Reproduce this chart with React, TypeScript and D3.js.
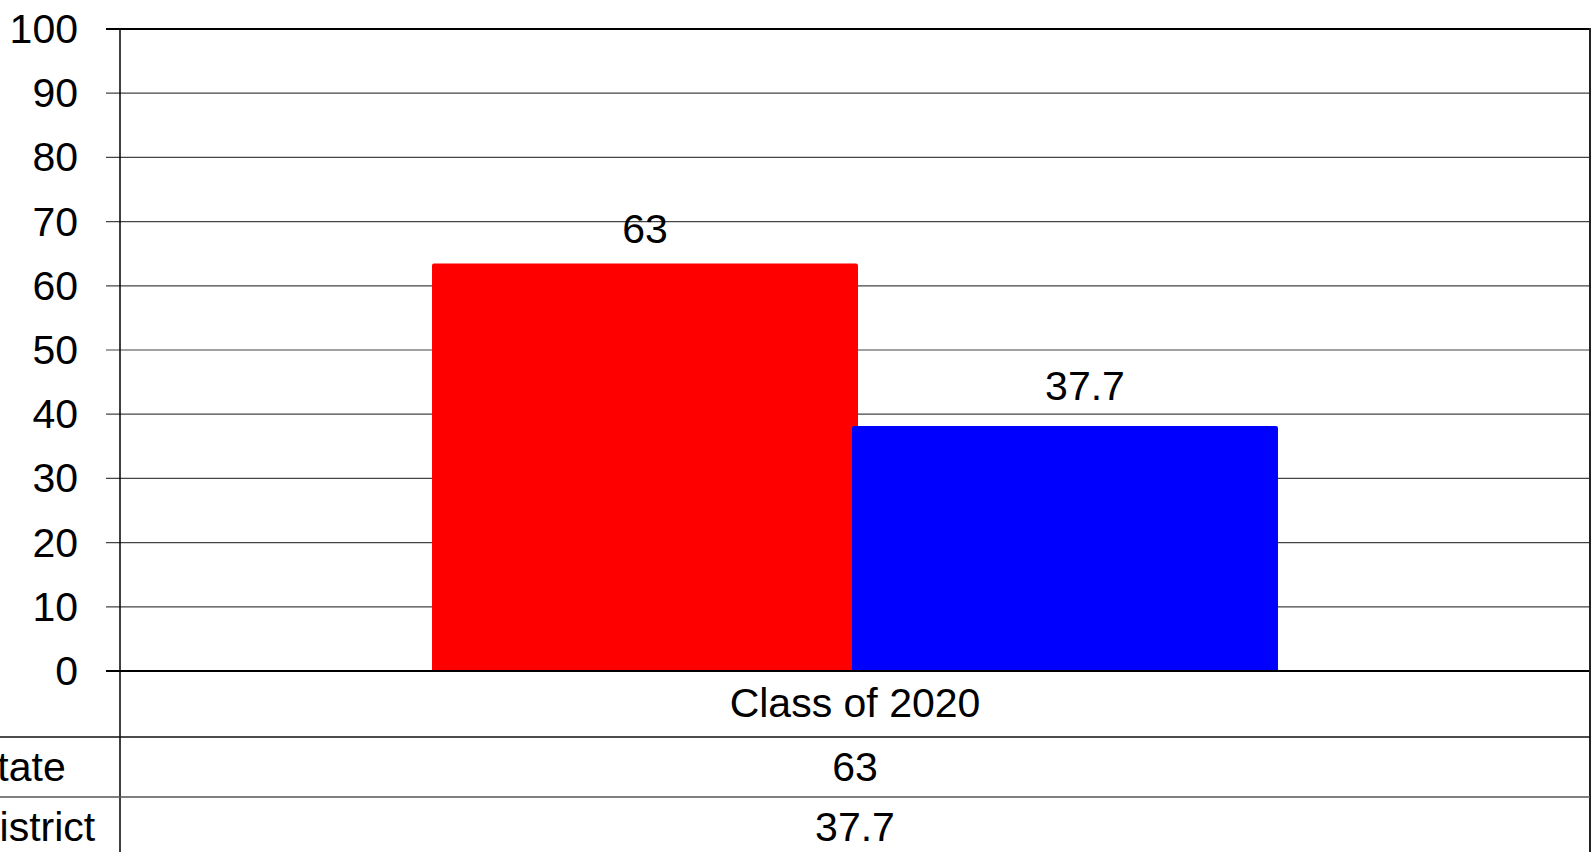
import React from "react";
import * as d3 from "d3";

const categories = ["Class of 2020"];
const seriesNames = ["State", "District"];
const stateValues = [63];
const districtValues = [37.7];
const seriesColors = ["#ff0000", "#0000ff"];
const yTicks = [0, 10, 20, 30, 40, 50, 60, 70, 80, 90, 100];

const W = 1596;
const H = 852;
const left = 120;
const right = 1590;
const top = 29;
const base = 671;
const rowLines = [737, 797];
const FONT = "'Liberation Sans', Arial, sans-serif";
const FS = 41;
const labelDx = [0, 20];
const labelDy = [-38, -43];

export default function App() {
  const y = d3.scaleLinear().domain([0, 100]).range([base, top]);
  const x0 = d3.scaleBand<string>().domain(categories).range([left, right]).paddingInner(0).paddingOuter(0.3627);
  const x1 = d3.scaleBand<string>().domain(seriesNames).range([0, x0.bandwidth()]).padding(0);
  const series = [stateValues, districtValues];
  const overlap = 6;
  const barX = (c: string, s: string, si: number) =>
    (x0(c) as number) + (x1(s) as number) + (si === 0 ? overlap / 2 : -overlap / 2);

  return (
    <svg width={W} height={H} style={{ position: "absolute", left: 0, top: 0, background: "#fff" }} fontFamily={FONT}>
      {yTicks.map((t) => (
        <g key={t}>
          <line x1={106} x2={right} y1={y(t)} y2={y(t)} stroke={t === 0 || t === 100 ? "#000" : "#444"} strokeWidth={t === 0 || t === 100 ? 2 : 1.2} />
          <text x={78} y={y(t)} textAnchor="end" dominantBaseline="central" fontSize={FS} fill="#000">{t}</text>
        </g>
      ))}
      {categories.map((c, ci) =>
        seriesNames.map((s, si) => {
          const v = series[si][ci];
          const bx = barX(c, s, si);
          const bw = x1.bandwidth();
          return (
            <rect key={c + s} x={bx} y={y(v) - 3} width={bw} height={y(0) - y(v) + 4} fill={seriesColors[si]} rx={2} />
          );
        })
      )}
      {categories.map((c, ci) =>
        seriesNames.map((s, si) => {
          const v = series[si][ci];
          const bx = barX(c, s, si);
          const bw = x1.bandwidth();
          return (
            <text key={"l" + c + s} x={bx + bw / 2 + labelDx[si]} y={y(v) + labelDy[si]} textAnchor="middle" dominantBaseline="central" fontSize={FS} fill="#000">{v}</text>
          );
        })
      )}
      <line x1={106} x2={right} y1={y(0)} y2={y(0)} stroke="#000" strokeWidth={2} />
      <line x1={left} x2={left} y1={top} y2={H} stroke="#000" strokeWidth={1.5} />
      <line x1={right} x2={right} y1={top - 1} y2={H} stroke="#222" strokeWidth={2} />
      {rowLines.map((ry, i) => (
        <line key={ry} x1={0} x2={right} y1={ry} y2={ry} stroke={i === 0 ? "#111" : "#555"} strokeWidth={1.5} />
      ))}
      {categories.map((c) => (
        <text key={c} x={(x0(c) as number) + x0.bandwidth() / 2} y={703} textAnchor="middle" dominantBaseline="central" fontSize={FS} fill="#000">{c}</text>
      ))}
      {seriesNames.map((s, si) => (
        <g key={s}>
          <text x={-30} y={767 + si * 60} dominantBaseline="central" fontSize={FS} fill="#000">{s}</text>
          {categories.map((c, ci) => (
            <text key={c} x={(x0(c) as number) + x0.bandwidth() / 2} y={767 + si * 60} textAnchor="middle" dominantBaseline="central" fontSize={FS} fill="#000">{series[si][ci]}</text>
          ))}
        </g>
      ))}
    </svg>
  );
}
